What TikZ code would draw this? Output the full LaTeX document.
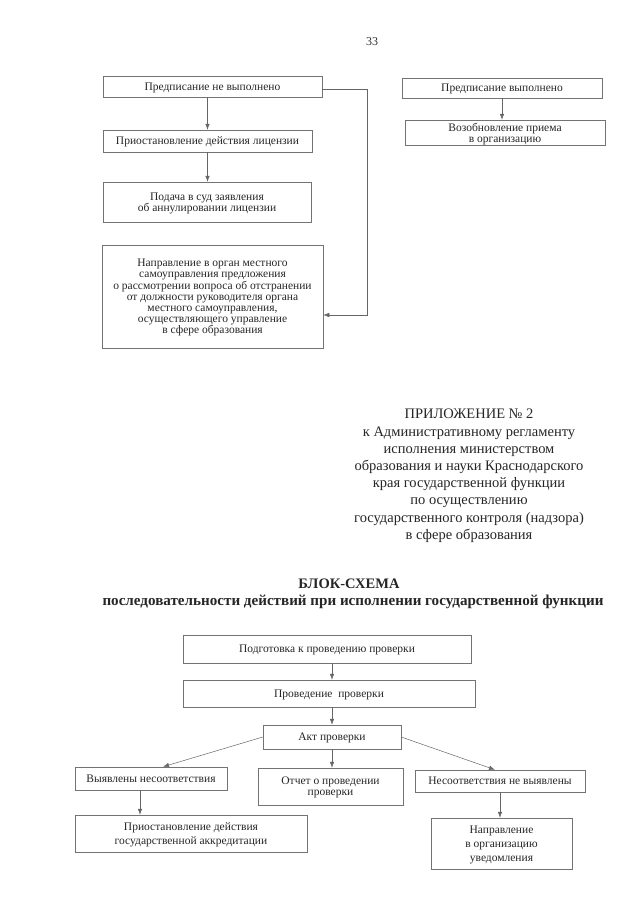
\documentclass[tikz,border=0pt]{standalone}
\usepackage{fontspec}
\setmainfont{Liberation Serif}
\usetikzlibrary{arrows.meta}

\tikzset{
	box/.style = {draw = black!55, line width = 0.5pt, align = center, inner sep = 1pt,
		text = black!85, text depth = 0pt, font = \fontsize{11.5}{11.2}\selectfont},
	widebox/.style = {box, font = \fontsize{11.5}{14}\selectfont},
	arr/.style = {draw = black!60, line width = 0.5pt, -{Latex[length = 6pt, width = 4.5pt]}},
	bigtext/.style = {align = center, inner sep = 0pt, text = black!85,
		font = \fontsize{14.5}{17.2}\selectfont}
}

\begin{document}
\begin{tikzpicture}[x = 1pt, y = -1pt]
	\useasboundingbox [fill = white] (0,0) rectangle (640,905);

	\node [text = black!80, font = \fontsize{12}{12}\selectfont] (pagenum) at (372,42) {33};

	% upper part
	\node [box, minimum width = 219, minimum height = 21] (notdone) at (212.5,86.5) {Предписание не выполнено};
	\node [box, minimum width = 209, minimum height = 22] (suspend) at (207.5,141) {Приостановление действия лицензии};
	\node [box, minimum width = 208, minimum height = 40] (court) at (207,202) {Подача в суд заявления\\об аннулировании лицензии};
	\node [box, minimum width = 221, minimum height = 103] (proposal) at (212.5,296.5)
		{Направление в орган местного\\самоуправления предложения\\о рассмотрении вопроса об отстранении\\от должности руководителя органа\\местного самоуправления,\\осуществляющего управление\\в сфере образования};

	\node [box, minimum width = 200, minimum height = 20] (done) at (502,88) {Предписание выполнено};
	\node [box, minimum width = 200, minimum height = 25] (resume) at (505,132.5) {Возобновление приема\\в организацию};

	\coordinate (bend) at (367,315);

	\draw [arr] (suspend.north |- notdone.south) -- (suspend.north);
	\draw [arr] (suspend.south) -- (suspend.south |- court.north);
	\draw [arr] ([yshift = -3pt]notdone.east) -| (bend) -- (bend -| proposal.east);
	\draw [arr] (done.south) -- (done.south |- resume.north);

	% appendix
	\node [bigtext, anchor = north] (appendix) at (469,409)
		{ПРИЛОЖЕНИЕ № 2\\к Административному регламенту\\исполнения министерством\\образования и науки Краснодарского\\края государственной функции\\по осуществлению\\государственного контроля (надзора)\\в сфере образования};

	\node [bigtext, font = \fontsize{14.5}{17}\selectfont\bfseries, anchor = base] (title) at (349,588) {БЛОК-СХЕМА};
	\node [bigtext, font = \fontsize{15.1}{17}\selectfont\bfseries, anchor = base] (subtitle) at (353,605)
		{последовательности действий при исполнении государственной функции};

	% lower part
	\node [box, minimum width = 288, minimum height = 28] (prep) at (327,649) {Подготовка к проведению проверки};
	\node [box, minimum width = 292, minimum height = 27] (check) at (329,693.5) {Проведение \ проверки};
	\node [box, minimum width = 138, minimum height = 24] (act) at (332,737) {Акт проверки};
	\node [box, minimum width = 152, minimum height = 23] (found) at (151,778.5) {Выявлены несоответствия};
	\node [box, minimum width = 145, minimum height = 37] (report) at (330.5,786.5) {Отчет о проведении\\проверки};
	\node [box, minimum width = 170, minimum height = 22] (notfound) at (500,781) {Несоответствия не выявлены};
	\node [widebox, minimum width = 232, minimum height = 37] (accred) at (191,833.5) {Приостановление действия\\государственной аккредитации};
	\node [widebox, minimum width = 141, minimum height = 51] (notice) at (501.5,843.5) {Направление\\в организацию\\уведомления};

	\draw [arr] (act.north |- prep.south) -- (act.north |- check.north);
	\draw [arr] (act.north |- check.south) -- (act.north);
	\draw [arr] (act.west) -- ([xshift = 12pt]found.north);
	\draw [arr] (act.east) -- ([xshift = -5pt]notfound.north);
	\draw [arr] (act.south) -- (act.south |- report.north);
	\draw [arr] ([xshift = -11pt]found.south) -- ([xshift = -11pt]found.south |- accred.north);
	\draw [arr] (notfound.south) -- (notfound.south |- notice.north);
\end{tikzpicture}
\end{document}
